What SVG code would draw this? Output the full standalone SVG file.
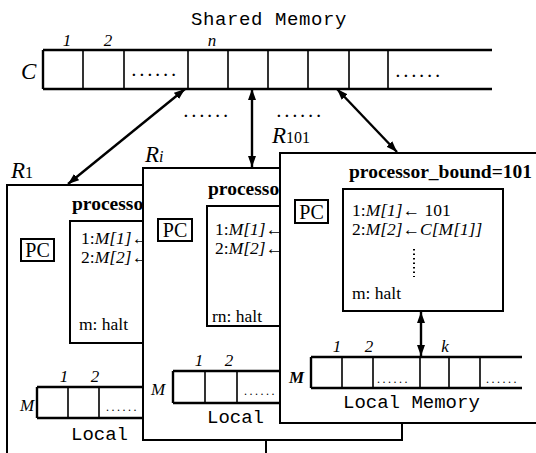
<svg xmlns="http://www.w3.org/2000/svg" width="536" height="453" viewBox="0 0 536 453">
<style>
.box{fill:#fff;stroke:#000;stroke-width:2}
.ln{stroke:#000;stroke-width:2.4;fill:none}
.dv{stroke:#000;stroke-width:1.6;fill:none}
.mono{font-family:"Liberation Mono","DejaVu Sans Mono",monospace;font-size:19px;fill:#000}
.serif{font-family:"Liberation Serif","DejaVu Serif",serif;fill:#000}
.it{font-style:italic}
.prog{font-family:"Liberation Serif","DejaVu Serif",serif;font-size:17.5px;fill:#000}
.bold{font-family:"Liberation Serif","DejaVu Serif",serif;font-size:19.5px;font-weight:bold;fill:#000}
.dots{font-family:"Liberation Serif",serif;font-size:15px;font-weight:bold;letter-spacing:4.2px;fill:#000}
.sdots{font-family:"Liberation Serif",serif;font-size:12px;letter-spacing:2.5px;fill:#000}
.idx{font-family:"Liberation Serif",serif;font-style:italic;font-size:17px;fill:#000;text-anchor:middle}
.conn{stroke:#000;stroke-width:2.4;fill:none;marker-start:url(#ah);marker-end:url(#ah)}
</style>
<defs>
<marker id="ah" markerUnits="userSpaceOnUse" markerWidth="11" markerHeight="8" refX="11" refY="4" orient="auto-start-reverse">
<path d="M0,0 L11,4 L0,8 z" fill="#000"/>
</marker>
</defs>
<rect width="536" height="453" fill="#fff"/>

<g id="shared-memory">
<text class="mono" x="191" y="25" font-size="18" letter-spacing="0.6">Shared Memory</text>
<text class="serif it" x="21" y="79" font-size="23">C</text>
<text class="idx" x="67" y="46">1</text>
<text class="idx" x="108" y="46">2</text>
<text class="idx" x="212" y="46">n</text>
<path class="ln" d="M43,50 H492 M43,89 H492 M43,50 V89"/>
<path class="dv" d="M83,50 V89 M124,50 V89 M188,50 V89 M228,50 V89 M268,50 V89 M308,50 V89 M349,50 V89 M388,50 V89"/>
<text class="dots" x="132" y="76">......</text>
<text class="dots" x="396" y="77">......</text>
</g>

<g id="R1">
<rect class="box" x="7" y="185" width="259" height="290"/>
<text class="serif" x="11" y="178"><tspan class="it" font-size="23">R</tspan><tspan font-size="16">1</tspan></text>
<text class="bold" x="72" y="210">processo</text>
<rect class="box" x="21" y="239" width="33" height="22"/>
<text class="serif" x="37.5" y="257" font-size="20" text-anchor="middle">PC</text>
<rect class="box" x="70" y="221" width="160" height="122"/>
<text class="prog" x="81" y="244">1:<tspan class="it">M[1]</tspan>←</text>
<text class="prog" x="81" y="263">2:<tspan class="it">M[2]</tspan>←</text>
<text class="prog" x="79" y="330">m: halt</text>
<text class="serif it" x="20" y="411" font-size="17">M</text>
<text class="idx" x="64" y="382">1</text>
<text class="idx" x="95" y="382">2</text>
<path class="ln" d="M37,387 H200 M37,418 H200 M37,387 V418"/>
<path class="dv" d="M68,387 V418 M99,387 V418"/>
<text class="sdots" x="106" y="411">......</text>
<text class="mono" x="71" y="440">Local</text>
</g>

<g id="Ri">
<rect class="box" x="143" y="168" width="259" height="272"/>
<text class="serif" x="145" y="162"><tspan class="it" font-size="23">R</tspan><tspan class="it" font-size="16">i</tspan></text>
<text class="bold" x="208" y="195">processo</text>
<rect class="box" x="158" y="219" width="34" height="22"/>
<text class="serif" x="175" y="237" font-size="20" text-anchor="middle">PC</text>
<rect class="box" x="207" y="206" width="160" height="120"/>
<text class="prog" x="215" y="235">1:<tspan class="it">M[1]</tspan>←</text>
<text class="prog" x="215" y="254">2:<tspan class="it">M[2]</tspan>←</text>
<text class="prog" x="212" y="322">rn: halt</text>
<text class="serif it" x="151" y="395" font-size="17">M</text>
<text class="idx" x="199" y="366">1</text>
<text class="idx" x="229" y="366">2</text>
<path class="ln" d="M173,371 H320 M173,403 H320 M173,371 V403"/>
<path class="dv" d="M205,371 V403 M237,371 V403"/>
<text class="sdots" x="244" y="395">......</text>
<text class="mono" x="207" y="423">Local</text>
</g>

<g id="R101">
<rect class="box" x="280" y="153" width="270" height="270"/>
<text class="serif" x="272" y="143"><tspan class="it" font-size="23">R</tspan><tspan font-size="16">101</tspan></text>
<text class="bold" x="349" y="178">processor_bound=101</text>
<rect class="box" x="295" y="200" width="33" height="23"/>
<text class="serif" x="311.5" y="219" font-size="20" text-anchor="middle">PC</text>
<rect class="box" x="343" y="189" width="160" height="122"/>
<text class="prog" x="352" y="216">1:<tspan class="it">M[1]</tspan>← 101</text>
<text class="prog" x="352" y="235">2:<tspan class="it">M[2]</tspan>←<tspan class="it">C[M[1]]</tspan></text>
<path d="M414,249 V277" stroke="#000" stroke-width="2" stroke-dasharray="1.5 3"/>
<text class="prog" x="352" y="299">m: halt</text>
<path class="conn" d="M421,312 V356"/>
<text class="serif it" x="289" y="383" font-size="17" font-weight="bold">M</text>
<text class="idx" x="337" y="352">1</text>
<text class="idx" x="369" y="352">2</text>
<text class="idx" x="445" y="352">k</text>
<path class="ln" d="M311,357 H522 M311,388 H522 M311,357 V388"/>
<path class="dv" d="M342,357 V388 M373,357 V388 M420,357 V388 M449,357 V388 M480,357 V388"/>
<text class="sdots" x="377" y="383">......</text>
<text class="sdots" x="486" y="383">......</text>
<text class="mono" x="343" y="408">Local Memory</text>
</g>

<g id="connectors">
<path class="conn" d="M185,89 L68,184"/>
<path class="conn" d="M252,89 V167"/>
<path class="conn" d="M337,89 L397,152"/>
<text class="dots" x="184" y="117">......</text>
<text class="dots" x="277" y="117">......</text>
</g>
</svg>
